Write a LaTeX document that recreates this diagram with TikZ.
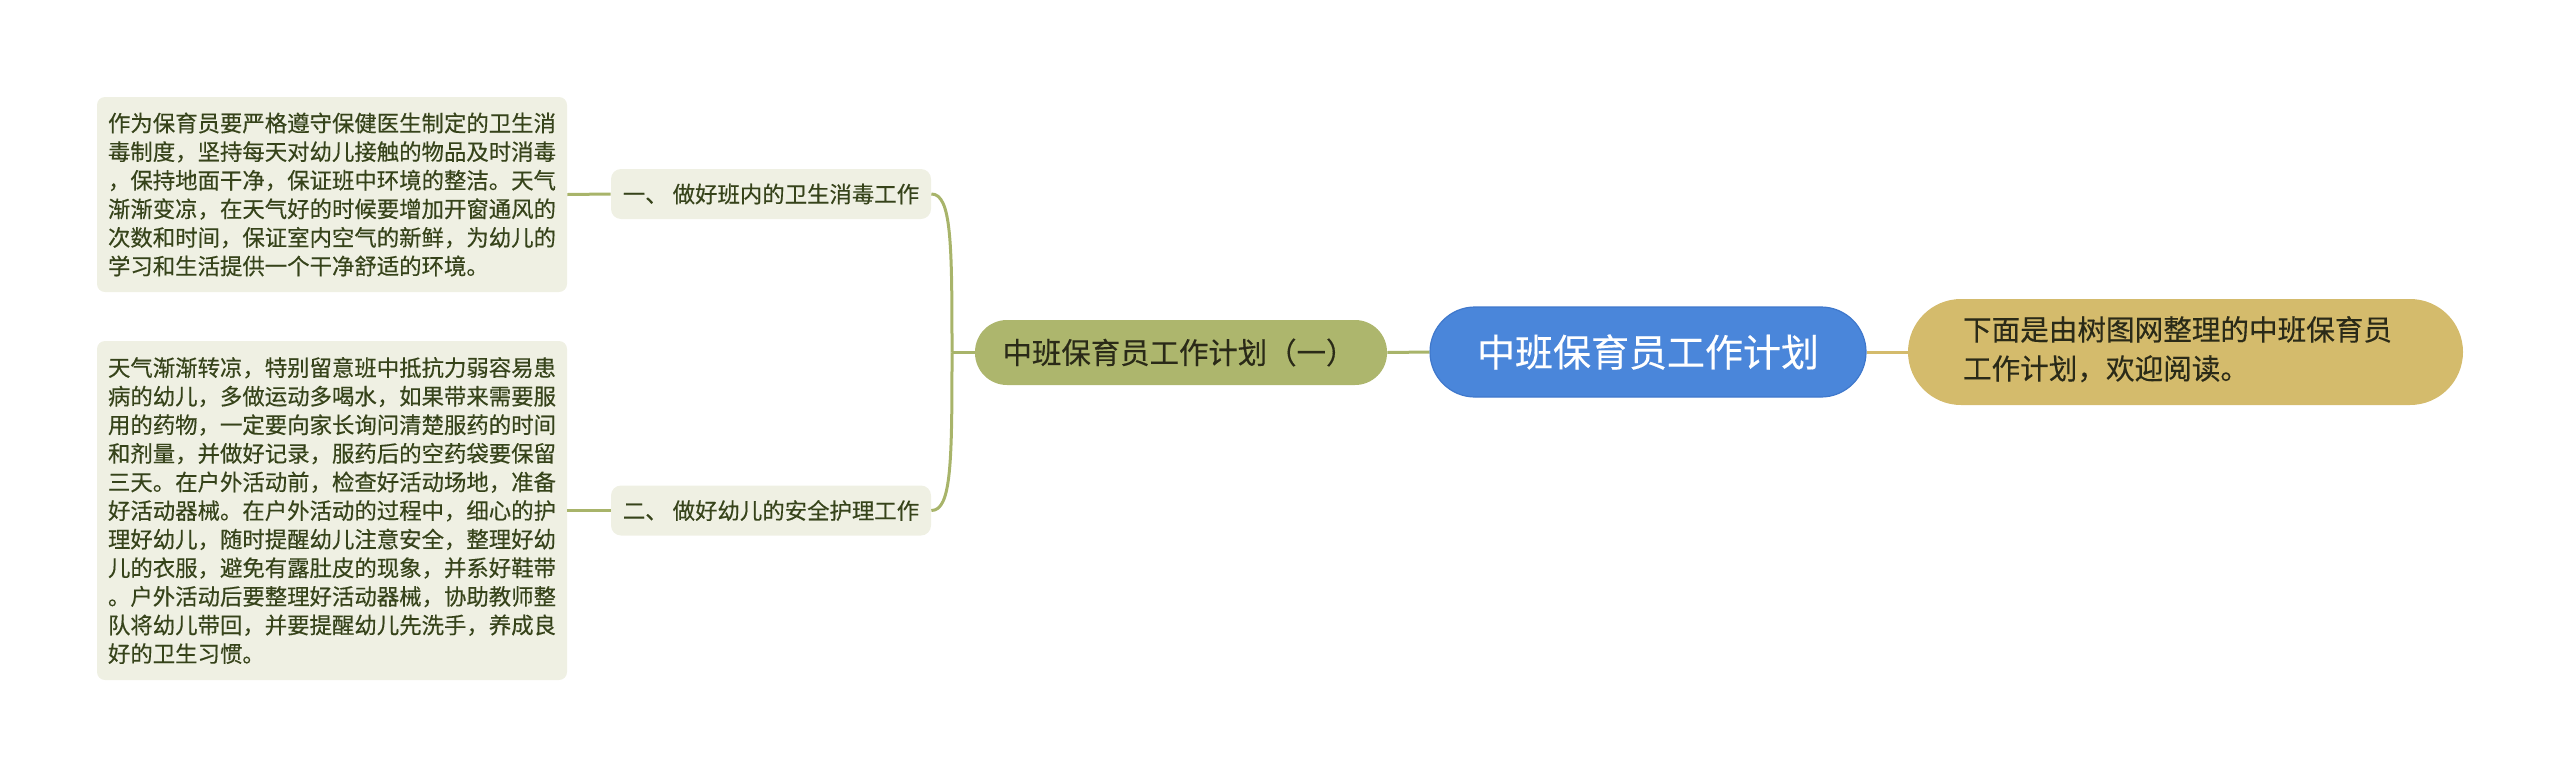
\documentclass[tikz,border=0pt]{standalone}
\usepackage{fontspec}
\usetikzlibrary{calc}
\newfontfamily\cjk[FakeBold=0.35]{Noto Sans CJK SC}
\definecolor{leafbg}{HTML}{EFF0E3}
\definecolor{leaftxt}{HTML}{36431A}
\definecolor{oliveline}{HTML}{A8B46A}
\definecolor{childfill}{HTML}{ADB66D}
\definecolor{rootfill}{HTML}{4A86DA}
\definecolor{rootdraw}{HTML}{3F78CC}
\definecolor{goldfill}{HTML}{D4BB6C}
\definecolor{darktxt}{HTML}{2A2A18}
\begin{document}
\begin{tikzpicture}[x=0.5pt,y=-0.5pt,
  leafbox/.style={fill=leafbg, rounded corners=4pt, inner sep=0pt, text=leaftxt,
    font=\cjk\fontsize{11.2pt}{14.3pt}\selectfont, align=left},
  branchbox/.style={fill=leafbg, rounded corners=5pt, inner sep=0pt, text=leaftxt,
    minimum width=160pt, minimum height=25pt, font=\cjk\fontsize{11.2pt}{14pt}\selectfont},
  childbox/.style={fill=childfill, rounded corners=16pt, inner sep=0pt, text=darktxt,
    minimum width=206pt, minimum height=32.5pt, font=\cjk\fontsize{14.7pt}{16pt}\selectfont},
  rootbox/.style={fill=rootfill, draw=rootdraw, line width=0.6pt, rounded corners=22.5pt, inner sep=0pt, text=white,
    minimum width=218pt, minimum height=45pt, font=\cjk\fontsize{19pt}{22pt}\selectfont},
  rightbox/.style={fill=goldfill, rounded corners=26.5pt, inner sep=0pt, text=darktxt,
    minimum width=277.5pt, minimum height=53pt, font=\cjk\fontsize{14.3pt}{19.5pt}\selectfont},
  oline/.style={draw=oliveline, line width=1.5pt},
  gline/.style={draw=goldfill, line width=1.5pt}]
\useasboundingbox (0,0) rectangle (2560,777);

\node[leafbox, minimum width=235pt, minimum height=97.5pt] (leafA) at (332,194.5)
  {作为保育员要严格遵守保健医生制定的卫生消\\毒制度，坚持每天对幼儿接触的物品及时消毒\\，保持地面干净，保证班中环境的整洁。天气\\渐渐变凉，在天气好的时候要增加开窗通风的\\次数和时间，保证室内空气的新鲜，为幼儿的\\学习和生活提供一个干净舒适的环境。};

\node[leafbox, minimum width=235pt, minimum height=169.5pt] (leafB) at (332,510.5)
  {天气渐渐转凉，特别留意班中抵抗力弱容易患\\病的幼儿，多做运动多喝水，如果带来需要服\\用的药物，一定要向家长询问清楚服药的时间\\和剂量，并做好记录，服药后的空药袋要保留\\三天。在户外活动前，检查好活动场地，准备\\好活动器械。在户外活动的过程中，细心的护\\理好幼儿，随时提醒幼儿注意安全，整理好幼\\儿的衣服，避免有露肚皮的现象，并系好鞋带\\。户外活动后要整理好活动器械，协助教师整\\队将幼儿带回，并要提醒幼儿先洗手，养成良\\好的卫生习惯。};

\node[branchbox] (brA) at (771,194) {一、 做好班内的卫生消毒工作};
\node[branchbox] (brB) at (771,510.5) {二、 做好幼儿的安全护理工作};

\node[childbox] (child) at (1181,352.5) {中班保育员工作计划（一）\hspace*{2pt}};
\node[rootbox] (root) at (1648,352) {中班保育员工作计划};
\node[rightbox] (right) at (2185.5,352) {\begin{tabular}{@{}l@{}}下面是由树图网整理的中班保育员\\工作计划，欢迎阅读。\end{tabular}\hspace*{8pt}};

\coordinate (J) at (952,352.5);

\draw[oline] (leafA.east) -- (brA.west);
\draw[oline] (leafB.east) -- (brB.west);
\draw[oline] (brA.east) .. controls ($(brA.east)+(20,0)$) and ($(J)+(0,-110)$) .. (J);
\draw[oline] (brB.east) .. controls ($(brB.east)+(20,0)$) and ($(J)+(0,110)$) .. (J);
\draw[oline] (J) -- (child.west);
\draw[oline] (child.east) -- (root.west);
\draw[gline] (root.east) -- (right.west);
\end{tikzpicture}
\end{document}
